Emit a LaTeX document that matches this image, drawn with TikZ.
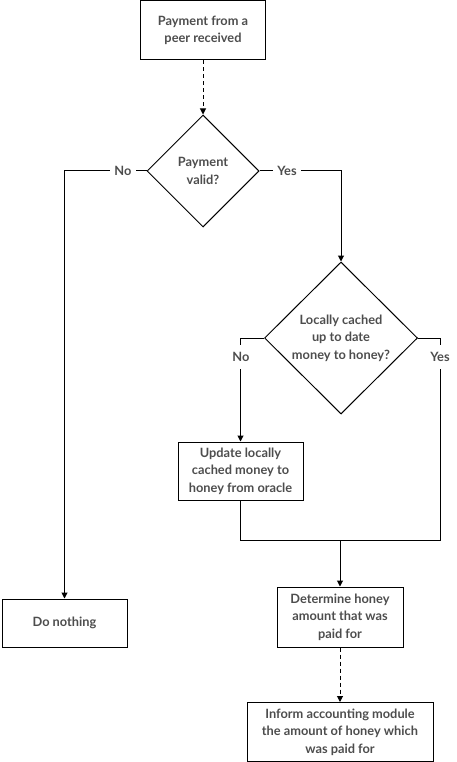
\documentclass[tikz,border=0pt]{standalone}
\usepackage{fontspec}
\setmainfont{Lato}
\usetikzlibrary{shapes.geometric,arrows.meta}
\definecolor{txt}{HTML}{4D4D4D}
\begin{document}
\begin{tikzpicture}[x=1pt,y=-1pt,
  every node/.style={font=\fontsize{12.8}{17.5}\selectfont\bfseries, text=txt, align=center},
  box/.style={draw=black, line width=1pt, rectangle, inner sep=0pt},
  dec/.style={draw=black, line width=1pt, diamond, inner sep=0pt, aspect=1},
  conn/.style={draw=black, line width=1pt},
  arr/.style={conn, -{Triangle[length=6pt,width=6pt]}},
  dsh/.style={dash pattern=on 4pt off 3pt},
  lbl/.style={fill=white, inner xsep=4pt, inner ysep=7pt}
]
\useasboundingbox (0,0) rectangle (456,762);
\node[box, minimum width=125pt, minimum height=59pt] (start) at (203,30.5) {Payment from a\\peer received};
\node[dec, minimum width=112pt, minimum height=112pt] (valid) at (203,171) {Payment\\valid?};
\node[dec, minimum width=153pt, minimum height=152pt] (cached) at (341,338) {Locally cached\\up to date\\money to honey?};
\node[box, minimum width=125pt, minimum height=58pt] (upd) at (240.5,471) {Update locally\\cached money to\\honey from oracle};
\node[box, minimum width=125pt, minimum height=48pt] (nothing) at (64.5,623) {Do nothing};
\node[box, minimum width=126pt, minimum height=60pt] (det) at (340,617) {Determine honey\\amount that was\\paid for};
\node[box, minimum width=186pt, minimum height=59pt] (inform) at (340,732) {Inform accounting module\\the amount of honey which\\was paid for};

\coordinate (yesR) at (440,338);
\coordinate (yesB) at (440,540);
\coordinate (join) at (det.north |- yesB);

\draw[arr, dsh] (start.south) -- (valid.north);
\draw[arr] (valid.west) -- (nothing.north |- valid.west) -- (nothing.north);
\draw[arr] (valid.east) -- (cached.north |- valid.east) -- (cached.north);
\draw[arr] (cached.west) -- (upd.north |- cached.west) -- (upd.north);
\draw[conn] (cached.east) -- (yesR) -- (yesB) -- (upd.south |- yesB) -- (upd.south);
\draw[arr] (join) -- (det.north);
\draw[arr, dsh] (det.south) -- (inform.north);

\node[lbl] (no1) at (123,171) {No};
\node[lbl] (yes1) at (287,171) {Yes};
\node[lbl] (no2) at (241,357) {No};
\node[lbl] (yes2) at (440,357) {Yes};
\end{tikzpicture}
\end{document}
